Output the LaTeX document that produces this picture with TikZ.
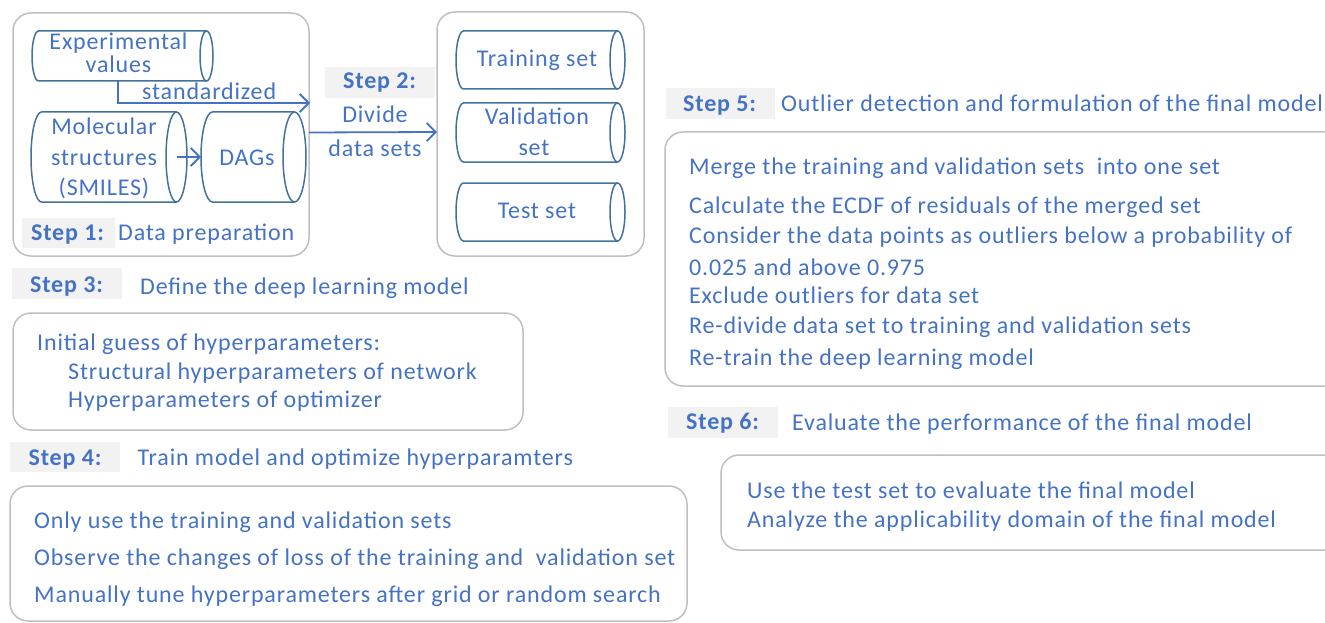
\documentclass[tikz,border=0pt]{standalone}
\usepackage{fontspec}
\setmainfont{Carlito}[LetterSpace=3.5]
\usetikzlibrary{arrows.meta}
\definecolor{txtblue}{HTML}{4472C4}
\definecolor{cylblue}{HTML}{41719C}
\definecolor{boxgray}{HTML}{BFBFBF}
\definecolor{labgray}{HTML}{F2F2F2}
\newcommand\rbox[5]{\node[box, anchor=north west, minimum width={#4-#2}, minimum height={#5-#3}] (#1) at (#2,-#3) {};}
\newcommand\labbox[5]{\node[labbg, anchor=north west, minimum width={#4-#2}, minimum height={#5-#3}] (#1) at (#2,-#3) {};}
\newcommand\cyl[6]{%
  \node[inner sep=0pt, outer sep=0pt, minimum width={#4-#2}, minimum height={#5-#3}, anchor=north west] (#1) at (#2,-#3) {};
  \pgfmathsetmacro\cry{(#5-#3)/2}%
  \draw[cylline] ({#4-#6},-#3) -- ({#2+#6},-#3) arc[start angle=90, end angle=270, x radius=#6, y radius=\cry] -- ({#4-#6},-#5);
  \draw[cylline] ({#4-#6},{-(#3+#5)/2}) ellipse[x radius=#6, y radius=\cry];
  \coordinate (#1-e) at ({#4-#6},{-(#3+#5)/2});
}
\begin{document}
\begin{tikzpicture}[x=1pt,y=1pt,
  box/.style={draw=boxgray, line width=1.5pt, rounded corners=18pt, inner sep=0pt, outer sep=0pt},
  labbg/.style={fill=labgray, draw=none, inner sep=0pt, outer sep=0pt},
  txt/.style={anchor=base west, inner sep=0pt, text=txtblue, font=\fontsize{24}{28}\selectfont},
  ctxt/.style={anchor=base, inner sep=0pt, text=txtblue, font=\fontsize{24}{28}\selectfont},
  stp/.style={anchor=base west, inner sep=0pt, text=txtblue, font=\fontsize{24}{28}\selectfont\bfseries},
  cylline/.style={draw=cylblue, line width=1.5pt},
  arr/.style={draw=txtblue, line width=1.8pt, -{Straight Barb[length=9pt,width=18pt,line width=1.8pt]}}]
\useasboundingbox (0,0) rectangle (1325,-623);
\clip (0,0) rectangle (1325,-623);
% ---- Step 1 box
\rbox{b1}{13}{13}{309}{256}
\cyl{exp}{32}{31}{213}{81}{6.5}
\cyl{mol}{31}{112}{187}{202}{10.5}
\cyl{dag}{201}{112}{306}{202}{11.5}
\node[ctxt] (exp-t1) at (118.5,-50) {Experimental};
\node[ctxt] (exp-t2) at (118.5,-73) {values};
\node[ctxt] (mol-t1) at (104,-135) {Molecular};
\node[ctxt] (mol-t2) at (104,-165) {structures};
\node[ctxt] (mol-t3) at (104,-195) {(SMILES)};
\node[ctxt] (dag-t) at (247,-165) {DAGs};
\labbox{s1}{22}{218}{115}{248}
\node[stp] (s1-t) at (31,-240) {Step 1:};
\node[txt] (s1-d) at (118,-240) {Data preparation};
% standardized arrow
\coordinate (stdend) at (310,-103);
\draw[arr] ([xshift=-4.5pt]exp.south) |- (stdend);
\node[txt] (std) at (142,-100) {standardized};
\draw[arr] (mol-e) -- (dag.west);
% ---- Step 2
\labbox{s2}{325}{67}{435}{98}
\node[stp] (s2-t) at (343,-89) {Step 2:};
\node[ctxt] (s2-d1) at (375,-123) {Divide};
\node[ctxt] (s2-d2) at (375,-157) {data sets};
\rbox{b2}{437}{12}{644}{256}
\draw[arr] ([yshift=2pt]b1.east) -- ([yshift=2pt]b2.west);
\cyl{tr}{456}{31}{625}{89}{7.5}
\cyl{va}{456}{103}{625}{162}{7.5}
\cyl{te}{456}{183}{625}{241}{7.5}
\node[ctxt] (tr-t) at (537,-67) {Training set};
\node[ctxt] (va-t1) at (537,-125) {Validation};
\node[ctxt] (va-t2) at (534,-155) {set};
\node[ctxt] (te-t) at (537,-218) {Test set};
% ---- Step 3
\labbox{s3}{12}{268}{122}{299}
\node[stp] (s3-t) at (30,-292) {Step 3:};
\node[txt] (s3-d) at (140,-294) {Define the deep learning model};
\rbox{b3}{13}{313}{523}{430}
\node[txt] (b3-1) at (37,-350) {Initial guess of hyperparameters:};
\node[txt] (b3-2) at (68,-379) {Structural hyperparameters of network};
\node[txt] (b3-3) at (68,-407) {Hyperparameters of optimizer};
% ---- Step 4
\labbox{s4}{10}{442}{120}{472}
\node[stp] (s4-t) at (28.5,-465) {Step 4:};
\node[txt] (s4-d) at (137.5,-465) {Train model and optimize hyperparamters};
\rbox{b4}{10}{486}{687}{621}
\node[txt] (b4-1) at (34,-528) {Only use the training and validation sets};
\node[txt] (b4-2) at (34,-565) {Observe the changes of loss of the training and\ \ validation set};
\node[txt] (b4-3) at (34,-602) {Manually tune hyperparameters after grid or random search};
% ---- Step 5
\labbox{s5}{666}{88}{775}{119}
\node[stp] (s5-t) at (683,-112) {Step 5:};
\node[txt] (s5-d) at (781,-112) {Outlier detection and formulation of the final model};
\rbox{b5}{665}{132}{1345}{386}
\node[txt] (b5-1) at (689,-175) {Merge the training and validation sets\ \ into one set};
\node[txt] (b5-2) at (689,-213) {Calculate the ECDF of residuals of the merged set};
\node[txt] (b5-3) at (689,-243) {Consider the data points as outliers below a probability of};
\node[txt] (b5-4) at (689,-275) {0.025 and above 0.975};
\node[txt] (b5-5) at (689,-303) {Exclude outliers for data set};
\node[txt] (b5-6) at (689,-333) {Re-divide data set to training and validation sets};
\node[txt] (b5-7) at (689,-365) {Re-train the deep learning model};
% ---- Step 6
\labbox{s6}{668}{407}{778}{438}
\node[stp] (s6-t) at (686,-429) {Step 6:};
\node[txt] (s6-d) at (792,-430) {Evaluate the performance of the final model};
\rbox{b6}{721}{455}{1345}{550}
\node[txt] (b6-1) at (747,-498) {Use the test set to evaluate the final model};
\node[txt] (b6-2) at (747,-527) {Analyze the applicability domain of the final model};
\end{tikzpicture}
\end{document}
